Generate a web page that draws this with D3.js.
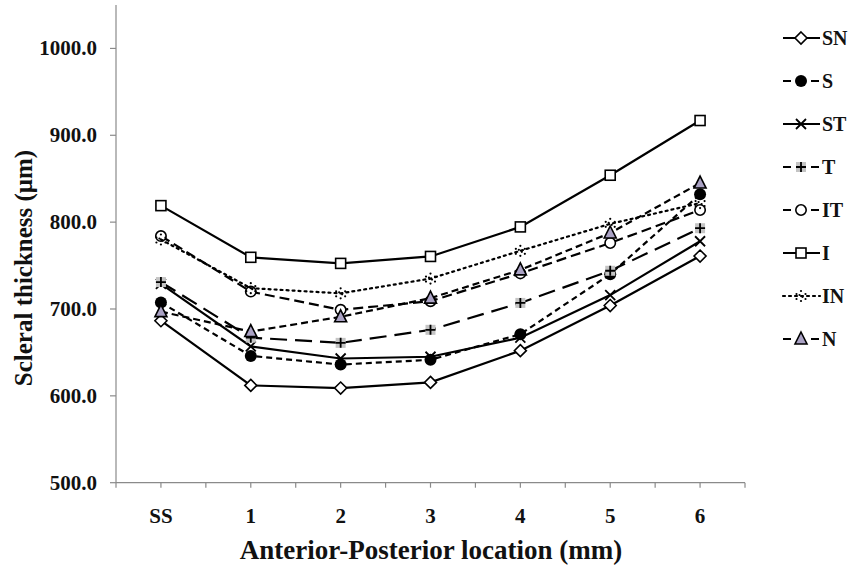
<!DOCTYPE html>
<html><head><meta charset="utf-8">
<script src="https://cdn.jsdelivr.net/npm/d3@7"></script>
<style>body{margin:0;background:#fff}svg{display:block}text{font-family:"Liberation Serif","Times New Roman",serif;font-weight:bold;fill:#111}</style>
</head><body><svg id="c" width="851" height="569"></svg>
<script>
const categories = ["SS","1","2","3","4","5","6"];
const seriesNames = ["SN","S","ST","T","IT","I","IN","N"];
const SN = [686.5, 612, 609, 615.5, 652, 704, 761];
const S  = [707.5, 646, 636, 641.5, 671, 740, 832];
const ST = [729, 657, 643, 645, 667, 716, 778];
const T  = [731, 667, 661, 676, 707, 744, 793];
const IT = [784, 720, 699, 709, 741, 776, 814];
const I  = [819, 759.5, 752.5, 760.5, 794.5, 854, 917];
const IN = [780, 724, 718, 735, 767, 798, 822];
const N  = [697, 674, 691, 712.5, 745, 787.5, 845];
const yTicks = [500, 600, 700, 800, 900, 1000];

const values = {SN, S, ST, T, IT, I, IN, N};
const styles = {
  SN:{dash:null, marker:"diamond"},
  S:{dash:"6,4", marker:"dot"},
  ST:{dash:null, marker:"x"},
  T:{dash:"17,8", marker:"plus"},
  IT:{dash:"10,5", marker:"circle"},
  I:{dash:null, marker:"square"},
  IN:{dash:"2,4", marker:"star"},
  N:{dash:"7,4", marker:"triangle"}
};

const svg = d3.select("#c");
const x0 = 116, x1 = 745, yTop = 5, yBot = 482.7;
const x = d3.scaleBand().domain(categories).range([x0, x1]);
const y = d3.scaleLinear().domain([500, 1050]).range([yBot, yTop]);
const axisColor = "#8a8a8a";

// Y axis
svg.append("line").attr("x1",x0).attr("x2",x0).attr("y1",yTop).attr("y2",yBot).attr("stroke",axisColor).attr("stroke-width",1.2);
const yg = svg.append("g");
yTicks.forEach(t=>{
  yg.append("line").attr("x1",x0-6).attr("x2",x0).attr("y1",y(t)).attr("y2",y(t)).attr("stroke",axisColor).attr("stroke-width",1.2);
  yg.append("text").attr("x",97).attr("y",y(t)+7).attr("text-anchor","end").attr("font-size",21).text(d3.format(".1f")(t));
});
// X axis
svg.append("line").attr("x1",x0).attr("x2",x1).attr("y1",yBot).attr("y2",yBot).attr("stroke",axisColor).attr("stroke-width",1.2);
const halfTicks = [];
categories.forEach(c=>{ halfTicks.push(x(c)); halfTicks.push(x(c)+x.bandwidth()/2); });
halfTicks.push(x1);
halfTicks.forEach(t=>{
  svg.append("line").attr("x1",t).attr("x2",t).attr("y1",yBot).attr("y2",yBot+5).attr("stroke",axisColor).attr("stroke-width",1.2);
});
categories.forEach(c=>{
  svg.append("text").attr("x",x(c)+x.bandwidth()/2).attr("y",523).attr("text-anchor","middle").attr("font-size",21).text(c);
});
svg.append("text").attr("x",431).attr("y",559).attr("text-anchor","middle").attr("font-size",27).text("Anterior-Posterior location (mm)");
svg.append("text").attr("transform","translate(32,268) rotate(-90)").attr("text-anchor","middle").attr("font-size",25).text("Scleral thickness (μm)");

function drawMarker(g, type, cx, cy){
  const s = 5;
  switch(type){
    case "diamond":
      g.append("path").attr("d",`M${cx},${cy-s-1}L${cx+s+1},${cy}L${cx},${cy+s+1}L${cx-s-1},${cy}Z`).attr("fill","#fff").attr("stroke","#000").attr("stroke-width",1.6); break;
    case "dot":
      g.append("circle").attr("cx",cx).attr("cy",cy).attr("r",6).attr("fill","#000"); break;
    case "x":
      g.append("path").attr("d",`M${cx-s},${cy-s}L${cx+s},${cy+s}M${cx+s},${cy-s}L${cx-s},${cy+s}`).attr("stroke","#000").attr("stroke-width",1.8); break;
    case "plus":
      g.append("rect").attr("x",cx-5).attr("y",cy-5).attr("width",10).attr("height",10).attr("fill","#c4c4c4");
      g.append("path").attr("d",`M${cx-5},${cy}L${cx+5},${cy}M${cx},${cy-5}L${cx},${cy+5}`).attr("stroke","#000").attr("stroke-width",1.8); break;
    case "circle":
      g.append("circle").attr("cx",cx).attr("cy",cy).attr("r",5.2).attr("fill","#fff").attr("stroke","#000").attr("stroke-width",1.6); break;
    case "square":
      g.append("rect").attr("x",cx-5).attr("y",cy-5).attr("width",10).attr("height",10).attr("fill","#fff").attr("stroke","#000").attr("stroke-width",1.6); break;
    case "star":
      [[0,-5],[4.5,-2],[4.5,3],[0,5],[-4.5,3],[-4.5,-2],[-1.5,-1],[1.5,1]].forEach(([dx,dy])=>{
        g.append("circle").attr("cx",cx+dx).attr("cy",cy+dy).attr("r",1.1).attr("fill","#000");
      }); break;
    case "triangle":
      g.append("path").attr("d",`M${cx},${cy-7}L${cx+6},${cy+5}L${cx-6},${cy+5}Z`).attr("fill","#aaa2c4").attr("stroke","#000").attr("stroke-width",1.6); break;
  }
}

const line = d3.line().x((d,i)=>x(categories[i])+x.bandwidth()/2).y(d=>y(d));
seriesNames.forEach(name=>{
  const g = svg.append("g");
  const st = styles[name];
  g.append("path").datum(values[name]).attr("d",line).attr("fill","none").attr("stroke","#000").attr("stroke-width",2.2)
    .attr("stroke-dasharray",st.dash).attr("stroke-linecap", name==="IN"?"round":"butt");
  values[name].forEach((v,i)=>drawMarker(g, st.marker, x(categories[i])+x.bandwidth()/2, y(v)));
});

// Legend
const legY = d3.scalePoint().domain(seriesNames).range([38, 339]);
seriesNames.forEach(name=>{
  const g = svg.append("g");
  const st = styles[name];
  const ly = legY(name);
  g.append("line").attr("x1",783).attr("x2",820).attr("y1",ly).attr("y2",ly).attr("stroke","#000").attr("stroke-width",2.2)
    .attr("stroke-dasharray", name==="IN"?"2,4":(st.dash?"8,6":null)).attr("stroke-linecap", name==="IN"?"round":"butt");
  drawMarker(g, st.marker, 801, ly);
  g.append("text").attr("x",822).attr("y",ly+7).attr("font-size",20).text(name);
});
</script></body></html>
